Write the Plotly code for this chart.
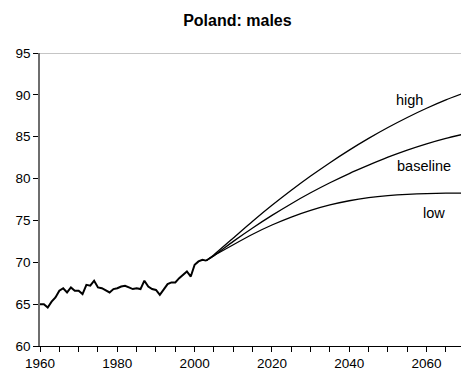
import plotly.graph_objects as go

# Observed life expectancy at birth, males, 1960-2003
hist_years = list(range(1960, 2004))
hist_values = [65.0, 65.0, 64.6, 65.3, 65.8, 66.6, 66.9, 66.4, 67.0, 66.6,
               66.6, 66.2, 67.3, 67.2, 67.8, 67.0, 66.9, 66.6, 66.4, 66.8,
               66.9, 67.1, 67.2, 67.0, 66.8, 66.9, 66.8, 67.8, 67.1, 66.8,
               66.7, 66.1, 66.7, 67.4, 67.6, 67.6, 68.1, 68.5, 68.9, 68.3,
               69.7, 70.1, 70.3, 70.2]

# Projection scenarios
proj_years = [2003, 2005, 2010, 2015, 2020, 2025, 2030, 2035, 2040, 2045,
              2050, 2055, 2060, 2065, 2069]
high = [70.2, 70.9, 72.9, 74.9, 76.8, 78.6, 80.3, 81.9, 83.4, 84.8,
        86.1, 87.3, 88.4, 89.4, 90.1]
baseline = [70.2, 70.8, 72.5, 74.1, 75.6, 77.0, 78.3, 79.5, 80.6, 81.6,
            82.55, 83.4, 84.15, 84.8, 85.25]
low = [70.2, 70.8, 72.1, 73.35, 74.45, 75.4, 76.2, 76.85, 77.35, 77.72,
       77.97, 78.12, 78.2, 78.25, 78.27]

scenario_labels = ["high", "baseline", "low"]
label_pos = [(2055.7, 89.4), (2059.3, 81.5), (2061.9, 75.9)]

FONT = "Liberation Sans, Arial, sans-serif"

fig = go.Figure()
fig.add_trace(go.Scatter(x=hist_years, y=hist_values, mode="lines",
                         line=dict(color="black", width=2),
                         showlegend=False))
for series in (high, baseline, low):
    fig.add_trace(go.Scatter(x=proj_years, y=series, mode="lines",
                             line=dict(color="black", width=1.3,
                                       shape="spline", smoothing=0.6),
                             showlegend=False))

for text, (lx, ly) in zip(scenario_labels, label_pos):
    fig.add_annotation(x=lx, y=ly, text=text, showarrow=False,
                       font=dict(family=FONT, size=14.5, color="black"))

# thin border line along the top of the plotting area
fig.add_shape(type="line", xref="paper", yref="y", x0=0, x1=1, y0=95, y1=95,
              line=dict(color="#8c8c8c", width=1))

fig.update_layout(
    width=461, height=375,
    margin=dict(l=40, r=0, t=53, b=29),
    paper_bgcolor="white", plot_bgcolor="white",
    title=dict(text="<b>Poland: males</b>", x=0.515, xanchor="center",
               y=1 - 20 / 375, yanchor="middle",
               font=dict(family=FONT, size=16, color="black")),
    font=dict(family=FONT, size=13.5, color="black"),
)
fig.update_xaxes(range=[1960, 2068.9], dtick=20, tick0=1960,
                 showgrid=False, zeroline=False,
                 showline=True, linecolor="black", linewidth=1,
                 ticks="outside", ticklen=5, tickcolor="black",
                 minor=dict(dtick=5, ticks="outside", ticklen=5,
                            tickcolor="black", showgrid=False))
fig.update_yaxes(range=[60, 95], dtick=5, showgrid=False, zeroline=False,
                 showline=True, linecolor="#6e6e6e", linewidth=1.5,
                 ticks="outside", ticklen=5, tickcolor="black")

fig.write_html("out.html")
